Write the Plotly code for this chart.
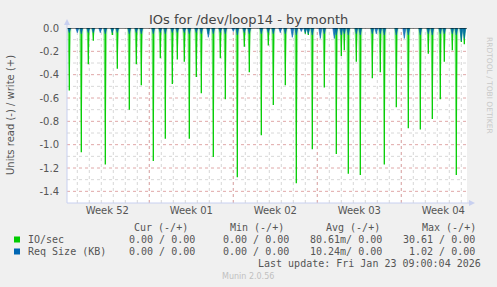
import plotly.graph_objects as go
from datetime import datetime, timedelta

# ---- data ----
io_times = ["2025-12-22 08:00", "2025-12-23 08:00", "2025-12-23 22:00", "2025-12-24 08:00",
            "2025-12-25 08:00", "2025-12-25 22:00", "2025-12-26 08:00", "2025-12-27 08:00",
            "2025-12-27 22:00", "2025-12-28 08:00", "2025-12-29 08:00", "2025-12-29 22:00",
            "2025-12-30 08:00", "2025-12-30 22:00", "2025-12-31 08:00", "2025-12-31 22:00",
            "2026-01-01 08:00", "2026-01-01 22:00", "2026-01-02 08:00", "2026-01-02 22:00",
            "2026-01-03 08:00", "2026-01-03 22:00", "2026-01-04 08:00", "2026-01-05 08:00",
            "2026-01-05 22:00", "2026-01-06 08:00", "2026-01-07 08:00", "2026-01-07 22:00",
            "2026-01-08 08:00", "2026-01-09 08:00", "2026-01-10 06:00", "2026-01-11 00:00",
            "2026-01-11 06:00", "2026-01-11 14:00", "2026-01-12 14:00", "2026-01-13 14:00",
            "2026-01-14 00:00", "2026-01-14 06:00", "2026-01-14 14:00", "2026-01-15 06:00",
            "2026-01-15 14:00", "2026-01-16 14:00", "2026-01-17 06:00", "2026-01-17 14:00",
            "2026-01-18 14:00", "2026-01-19 14:00", "2026-01-20 14:00", "2026-01-21 06:00",
            "2026-01-21 14:00", "2026-01-22 06:00", "2026-01-22 14:00", "2026-01-23 06:00",
            "2026-01-23 14:00", "2026-01-24 00:00", "2026-01-24 06:00"]
io_read = [-0.535, -1.066, -0.31, -0.11,
           -1.17, -0.06, -0.35, -0.70,
           -0.31, -0.49, -1.14, -0.26,
           -0.95, -0.48, -0.27, -0.29,
           -0.95, -0.42, -0.56, -0.05,
           -1.105, -0.26, -0.61, -1.28,
           -0.16, -0.38, -0.92, -0.15,
           -0.66, -0.49, -1.33, -0.05,
           -0.06, -1.04, -0.51, -1.08,
           -0.24, -0.19, -1.25, -0.29,
           -1.26, -0.43, -0.38, -1.17,
           -0.68, -0.86, -0.87, -0.22,
           -0.78, -0.61, -0.29, -0.19,
           -1.26, -0.12, -0.14]

req_extra_times = ["2025-12-23 00:00", "2025-12-24 22:00", "2026-01-05 00:00", "2026-01-08 22:00",
                   "2026-01-09 22:00", "2026-01-10 16:00", "2026-01-12 06:00", "2026-01-13 10:00",
                   "2026-01-16 22:00", "2026-01-19 06:00"]
req_extra_read = [-0.04, -0.04, -0.03, -0.04, -0.08, -0.03, -0.09, -0.09, -0.05, -0.09]
req_spike_read = [-0.04, -0.05, -0.04, -0.04, -0.05, -0.04, -0.04, -0.05,
                  -0.04, -0.05, -0.05, -0.04, -0.05, -0.04, -0.04, -0.04,
                  -0.05, -0.04, -0.05, -0.08, -0.05, -0.04, -0.05, -0.06,
                  -0.04, -0.05, -0.05, -0.04, -0.05, -0.05, -0.06, -0.04,
                  -0.05, -0.06, -0.05, -0.06, -0.06, -0.05, -0.06, -0.05,
                  -0.06, -0.05, -0.05, -0.06, -0.06, -0.06, -0.06, -0.05,
                  -0.06, -0.05, -0.05, -0.05, -0.06, -0.11, -0.09]

week_labels = ["Week 52", "Week 01", "Week 02", "Week 03", "Week 04"]
week_centers = ["2025-12-25 12:00", "2026-01-01 12:00", "2026-01-08 12:00",
                "2026-01-15 12:00", "2026-01-22 12:00"]
week_starts = ["2025-12-29", "2026-01-05", "2026-01-12", "2026-01-19"]
y_ticks = [0.0, -0.2, -0.4, -0.6, -0.8, -1.0, -1.2, -1.4]

legend_rows = [
    ("IO/sec", "#00cc00", ["0.00 / 0.00", "0.00 / 0.00", "80.61m/ 0.00", "30.61 / 0.00"]),
    ("Req Size (KB)", "#0066b3", ["0.00 / 0.00", "0.00 / 0.00", "10.24m/ 0.00", "1.02 / 0.00"]),
]
legend_headers = ["Cur (-/+)", "Min (-/+)", "Avg (-/+)", "Max (-/+)"]

X0 = "2025-12-22 03:24"
X1 = "2026-01-24 11:24"

FMT = "%Y-%m-%d %H:%M"
def parse(s):
    return datetime.strptime(s, FMT) if " " in s else datetime.strptime(s, "%Y-%m-%d")

def spikes(times, vals, half_h):
    fx, fy, lx, ly = [], [], [], []
    for t, v in zip(times, vals):
        d = parse(t)
        fx += [d - timedelta(hours=half_h), d, d + timedelta(hours=half_h), None]
        fy += [0, v, 0, None]
        lx += [d, d, None]
        ly += [0, v, None]
    return fx, fy, lx, ly

fig = go.Figure()

gfx, gfy, glx, gly = spikes(io_times, io_read, 4)
fig.add_trace(go.Scatter(x=gfx, y=gfy, mode="lines", fill="toself",
                         fillcolor="rgba(60,215,60,0.55)", line=dict(width=0),
                         showlegend=False, hoverinfo="skip"))
fig.add_trace(go.Scatter(x=glx, y=gly, mode="lines", line=dict(color="#00cc00", width=1.3),
                         showlegend=False, name="IO/sec"))

req_times = io_times + req_extra_times
req_read = req_spike_read + req_extra_read
bfx, bfy, blx, bly = spikes(req_times, req_read, 3)
fig.add_trace(go.Scatter(x=bfx, y=bfy, mode="lines", fill="toself",
                         fillcolor="rgba(0,102,179,0.85)", line=dict(width=0.6, color="#0066b3"),
                         showlegend=False, name="Req Size (KB)"))

# grid lines
shapes = []
d = datetime(2025, 12, 23)
while d < parse(X1):
    shapes.append(dict(type="line", xref="x", yref="paper", x0=d, x1=d, y0=0, y1=1,
                       line=dict(color="#d8d8d8", width=1, dash="dot"), layer="below"))
    d += timedelta(days=1)
for w in week_starts:
    shapes.append(dict(type="line", xref="x", yref="paper", x0=w, x1=w, y0=0, y1=1,
                       line=dict(color="#e0a8a8", width=1, dash="dot"), layer="below"))
for i in range(1, 15):
    yv = -0.1 * i
    major = (i % 2 == 0)
    shapes.append(dict(type="line", xref="paper", yref="y", x0=0, x1=1, y0=yv, y1=yv,
                       line=dict(color="#e0a8a8" if major else "#d8d8d8", width=1, dash="dot"),
                       layer="below"))
# zero line
shapes.append(dict(type="line", xref="paper", yref="y", x0=0, x1=1, y0=0, y1=0,
                   line=dict(color="#000000", width=1)))

W, H = 497, 287
L, R, T, B = 67, 467, 28, 203
def px(x):
    return (x - L) / (R - L)
def py(y):
    return (B - y) / (B - T)

# axes with arrows
shapes.append(dict(type="line", xref="paper", yref="paper", x0=px(67), x1=px(67), y0=py(203), y1=py(22),
                   line=dict(color="#c8d0f0", width=1)))
shapes.append(dict(type="line", xref="paper", yref="paper", x0=px(67), x1=px(472), y0=py(203), y1=py(203),
                   line=dict(color="#c8d0f0", width=1)))
shapes.append(dict(type="path", xref="paper", yref="paper",
                   path=f"M {px(64)} {py(25)} L {px(70)} {py(25)} L {px(67)} {py(19)} Z",
                   fillcolor="#c8d0f0", line=dict(width=0)))
shapes.append(dict(type="path", xref="paper", yref="paper",
                   path=f"M {px(469)} {py(200)} L {px(469)} {py(206)} L {px(475)} {py(203)} Z",
                   fillcolor="#c8d0f0", line=dict(width=0)))

ann = []
def text(x, y, s, size=10, color="#555555", family="DejaVu Sans", xanchor="center", angle=0):
    ann.append(dict(xref="paper", yref="paper", x=px(x), y=py(y), text=s, showarrow=False,
                    xanchor=xanchor, yanchor="middle", textangle=angle,
                    font=dict(size=size, color=color, family=family)))

text(248, 19, "IOs for /dev/loop14 - by month", size=13, color="#444444")
text(10, 115, "Units read (-) / write (+)", size=10, color="#555555", angle=-90)
text(490, 85, "RRDTOOL / TOBI OETIKER", size=7.5, color="#c8c8c8", angle=90)

mono = "DejaVu Sans Mono"
hdr_x = [161, 257, 353, 449]
for hx, h in zip(hdr_x, legend_headers):
    text(hx, 227, h, size=10, family=mono)
val_right = [197, 291, 384, 477]
row_y = [239.5, 251.5]
for (name, col, vals), ry in zip(legend_rows, row_y):
    shapes.append(dict(type="rect", xref="paper", yref="paper",
                       x0=px(14), x1=px(20), y0=py(ry - 3), y1=py(ry + 3),
                       fillcolor=col, line=dict(width=0)))
    text(26, ry, name, size=10, family=mono, xanchor="left")
    for vx, v in zip(val_right, vals):
        text(vx, ry, v, size=10, family=mono, xanchor="right")
text(483, 263.5, "Last update: Fri Jan 23 09:00:04 2026", size=10, family=mono, xanchor="right")
text(248, 276, "Munin 2.0.56", size=8, color="#c0c0c0")

fig.update_layout(
    width=W, height=H,
    margin=dict(l=L, r=W - R, t=T, b=H - B, pad=0),
    paper_bgcolor="#f0f0f0", plot_bgcolor="#ffffff",
    shapes=shapes, annotations=ann, showlegend=False,
    xaxis=dict(type="date", range=[X0, X1], tickmode="array", tickvals=week_centers,
               ticktext=week_labels, showgrid=False, zeroline=False, showline=False,
               ticks="", tickfont=dict(family="DejaVu Sans", size=10, color="#555555")),
    yaxis=dict(range=[-1.5, 0.0], tickmode="array", tickvals=y_ticks,
               ticktext=[f"{v:.1f}" for v in y_ticks], showgrid=False, zeroline=False,
               showline=False, ticks="outside", ticklen=5, tickcolor="rgba(0,0,0,0)",
               tickfont=dict(family="DejaVu Sans", size=10, color="#555555")),
)

fig.write_html("out.html")
